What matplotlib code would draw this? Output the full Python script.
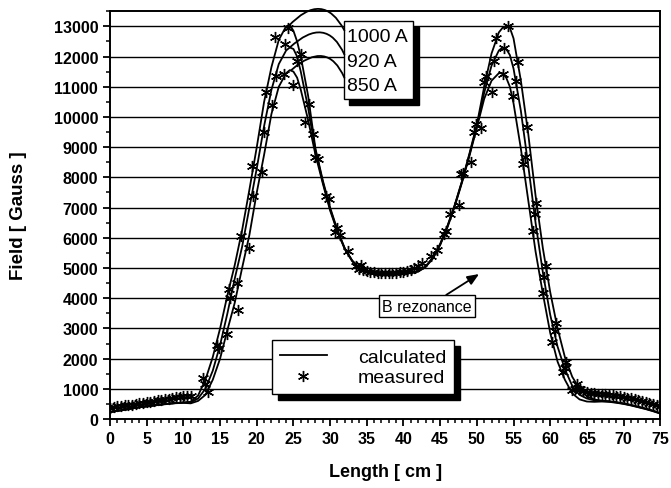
import numpy as np
import matplotlib
import matplotlib.pyplot as plt
from matplotlib.patches import Rectangle
from matplotlib.ticker import MultipleLocator
from matplotlib.transforms import offset_copy

matplotlib.rcParams['font.family'] = ['Liberation Sans', 'DejaVu Sans']

# calculated field along the axis [Gauss] vs length [cm]
x_calc = [0, 1, 2, 3, 4, 5, 6, 7, 8, 9,
          10, 11, 12, 13, 14, 15, 16, 17, 18, 19,
          20, 21, 22, 23, 24, 24.5, 25, 25.5, 26, 27,
          28, 29, 30, 31, 32, 33, 34, 35, 36, 37,
          38, 39, 40, 41, 42, 43, 44, 45, 46, 47,
          48, 49, 50, 51, 52, 53, 53.5, 54, 54.5, 55,
          56, 57, 58, 59, 60, 61, 62, 63, 64, 65,
          66, 67, 68, 69, 70, 71, 72, 73, 74, 75]
calc_1000 = [230, 270, 310, 350, 390, 420, 450, 480, 510, 530,
             550, 570, 780, 1300, 2050, 3000, 4100, 5100, 6250, 7600,
             9000, 10500, 11650, 12550, 13000, 13050, 12850, 12500, 12000, 10700,
             8950, 7900, 7000, 6250, 5650, 5250, 5000, 4900, 4850, 4830,
             4820, 4820, 4830, 4850, 4900, 5050, 5350, 5800, 6400, 7100,
             7900, 8800, 9750, 11000, 12100, 12800, 12950, 13000, 12950, 12600,
             11200, 9450, 7400, 5650, 4200, 3000, 2050, 1400, 1000, 750,
             650, 610, 590, 560, 520, 470, 410, 350, 280, 200]
calc_920 = [230, 270, 310, 350, 390, 420, 450, 480, 510, 530,
            545, 550, 680, 1000, 1600, 2450, 3500, 4650, 5700, 7000,
            8300, 9700, 10900, 11750, 12200, 12300, 12250, 12000, 11500, 10300,
            8900, 7850, 6950, 6230, 5640, 5240, 4990, 4890, 4840, 4820,
            4810, 4810, 4820, 4840, 4890, 5040, 5330, 5780, 6380, 7080,
            7880, 8760, 9700, 10800, 11700, 12200, 12300, 12250, 12050, 11600,
            10200, 8400, 6500, 4850, 3450, 2400, 1650, 1100, 800, 680,
            620, 600, 580, 550, 510, 460, 400, 340, 270, 190]
calc_850 = [230, 270, 310, 350, 390, 420, 450, 480, 510, 525,
            535, 520, 600, 800, 1300, 2000, 2950, 3850, 5000, 6100,
            7500, 8750, 10100, 11000, 11450, 11550, 11500, 11300, 10900, 9900,
            8750, 7800, 6900, 6200, 5620, 5230, 4980, 4880, 4830, 4810,
            4800, 4800, 4810, 4830, 4880, 5030, 5310, 5760, 6350, 7050,
            7850, 8720, 9650, 10600, 11200, 11450, 11450, 11300, 11000, 10450,
            8950, 7250, 5550, 4150, 2850, 1900, 1300, 850, 650, 580,
            570, 580, 570, 540, 500, 450, 390, 330, 260, 180]

# measured points (tails and valley overlap for all currents)
meas_tail_l_x = [0, 0.5, 1, 1.5, 2, 2.5, 3, 3.5, 4, 4.5, 5, 5.5, 6, 6.5, 7, 7.5,
                 8, 8.5, 9, 9.5, 10, 10.5, 11]
meas_tail_l_y = [380, 400, 420, 430, 450, 470, 480, 500, 520, 540, 560, 580, 600,
                 620, 640, 660, 680, 700, 720, 730, 750, 760, 750]
meas_valley_x = [33.5, 34, 34.5, 35, 35.5, 36, 36.5, 37, 37.5, 38, 38.5, 39, 39.5,
                 40, 40.5, 41, 41.5, 42, 42.5]
meas_valley_y = [5050, 4980, 4930, 4900, 4880, 4860, 4850, 4840, 4840, 4840, 4840,
                 4850, 4860, 4880, 4900, 4940, 4990, 5060, 5150]
meas_tail_r_x = [64, 64.5, 65, 65.5, 66, 66.5, 67, 67.5, 68, 68.5, 69, 69.5, 70,
                 70.5, 71, 71.5, 72, 72.5, 73, 73.5, 74, 74.5, 75]
meas_tail_r_y = [1000, 920, 880, 860, 850, 840, 830, 820, 800, 790, 770, 750, 730,
                 710, 690, 660, 630, 600, 570, 540, 500, 470, 440]

meas_1000_x = [12.7, 14.6, 16.2, 17.8, 19.3, 21.2, 22.5, 24.3, 26.0, 27.6, 29.4, 31.0,
               32.5, 43.7, 45.5, 47.8, 49.9, 51.2, 52.6, 54.2, 55.6, 56.9, 58.1, 59.4,
               60.8, 62.2, 63.6]
meas_1000_y = [1360, 2440, 4300, 6060, 8390, 10830, 12650, 12950, 12070, 9440, 7390,
               6330, 5560, 5390, 6110, 8110, 9780, 11360, 12620, 13000, 11830, 9670,
               7160, 5050, 3170, 1890, 1150]
meas_920_x = [13.0, 14.8, 16.3, 17.3, 19.5, 21.0, 22.6, 23.9, 25.5, 27.1, 28.0, 29.8,
              31.4, 44.5, 46.4, 48.1, 49.6, 51.0, 52.4, 53.7, 55.3, 56.5, 57.9, 59.2,
              60.6, 62.0, 63.4]
meas_920_y = [1150, 2350, 4000, 4500, 7400, 9500, 11350, 12400, 11850, 10440, 8680,
              7280, 6100, 5600, 6780, 8150, 9500, 11150, 11850, 12290, 11200, 8670,
              6800, 4700, 2900, 1700, 1000]
meas_850_x = [13.3, 16.0, 17.4, 18.9, 20.7, 22.1, 23.7, 25.0, 26.6, 28.3, 30.7, 34.2,
              45.8, 47.5, 49.2, 50.5, 52.1, 53.5, 54.9, 56.3, 57.6, 59.0, 60.3, 61.7,
              63.0]
meas_850_y = [900, 2830, 3600, 5650, 8180, 10380, 11430, 11070, 9830, 8610, 6190,
              5110, 6230, 7100, 8500, 9650, 10830, 11420, 10710, 8440, 6220, 4170,
              2550, 1550, 950]

currents = ["1000 A", "920 A", "850 A"]
peak_x = [24.3, 24.5, 24.7]
peak_y = [13000, 12300, 11550]

fig = plt.figure(figsize=(6.71, 4.89), dpi=100)
ax = fig.add_axes([0.164, 0.141, 0.82, 0.834])

star = dict(marker=(6, 2, 0), ms=8, mew=1.0, color='black', linestyle='none')

calc_lines = []
for yv in [calc_1000, calc_920, calc_850]:
    ln, = ax.plot(x_calc, yv, color='black', lw=1.3, zorder=3)
    calc_lines.append(ln)

meas_pts, = ax.plot(meas_1000_x, meas_1000_y, zorder=4, **star)
ax.plot(meas_920_x, meas_920_y, zorder=4, **star)
ax.plot(meas_850_x, meas_850_y, zorder=4, **star)
ax.plot(meas_tail_l_x, meas_tail_l_y, zorder=4, **star)
ax.plot(meas_valley_x, meas_valley_y, zorder=4, **star)
ax.plot(meas_tail_r_x, meas_tail_r_y, zorder=4, **star)

ax.set_xlim(0, 75)
ax.set_ylim(0, 13500)
ax.xaxis.set_major_locator(MultipleLocator(5))
ax.xaxis.set_minor_locator(MultipleLocator(1))
ax.yaxis.set_major_locator(MultipleLocator(1000))
ax.yaxis.set_minor_locator(MultipleLocator(500))
ax.tick_params(which='major', direction='out', length=5, width=1.3, labelsize=11.5)
ax.tick_params(which='minor', direction='out', length=3, width=1.1)
plt.setp(ax.get_xticklabels() + ax.get_yticklabels(), fontweight='bold')
ax.yaxis.grid(True, which='major', color='black', lw=1.0)
ax.set_axisbelow(True)
for s in ax.spines.values():
    s.set_linewidth(1.4)

ax.set_xlabel("Length [ cm ]", fontsize=13, fontweight='bold', labelpad=12)
ax.set_ylabel("Field [ Gauss ]", fontsize=13.5, fontweight='bold', labelpad=19)

# current labels box with leader arcs to the peaks
box_kw = dict(transform=ax.transAxes, clip_on=False)
shadow_tr = offset_copy(ax.transAxes, fig=fig, x=4, y=-4, units='points')
ax.add_patch(Rectangle((0.425, 0.784), 0.126, 0.191, facecolor='black',
                       edgecolor='black', transform=shadow_tr, clip_on=False, zorder=5))
ax.add_patch(Rectangle((0.425, 0.784), 0.126, 0.191, facecolor='white',
                       edgecolor='black', lw=1.0, zorder=6, **box_kw))
label_y = [0.939, 0.877, 0.819]
for name, px, py, ty in zip(currents, peak_x, peak_y, label_y):
    ax.annotate(name, xy=(px, py), xytext=(0.431, ty), textcoords='axes fraction',
                fontsize=14, ha='left', va='center', zorder=7, annotation_clip=False,
                arrowprops=dict(arrowstyle='-', connectionstyle='arc3,rad=0.75',
                                lw=1.3, color='black', relpos=(0, 0.5),
                                shrinkA=0, shrinkB=0))

# resonance marker
ax.annotate("B rezonance", xy=(50.3, 4800), xytext=(0.576, 0.277),
            textcoords='axes fraction', fontsize=11.5, ha='center', va='center', zorder=7,
            bbox=dict(boxstyle='square,pad=0.2', facecolor='white', edgecolor='black', lw=1.0),
            arrowprops=dict(arrowstyle='-|>,head_length=0.6,head_width=0.25', lw=1.3,
                            color='black', relpos=(0.65, 1.0), shrinkA=0, shrinkB=0))

leg = ax.legend([calc_lines[0], meas_pts], ["calculated", "measured"],
                loc='lower left', bbox_to_anchor=(0.295, 0.061), borderaxespad=0,
                fontsize=14, fancybox=False, edgecolor='black', framealpha=1,
                handlelength=2.4, handletextpad=1.6, labelspacing=0.15, borderpad=0.4,
                shadow={'ox': 4, 'oy': -4, 'shade': 1.0, 'alpha': 1})
leg.get_frame().set_linewidth(1.0)
leg.set_zorder(8)

plt.savefig("out.png", dpi=100)
